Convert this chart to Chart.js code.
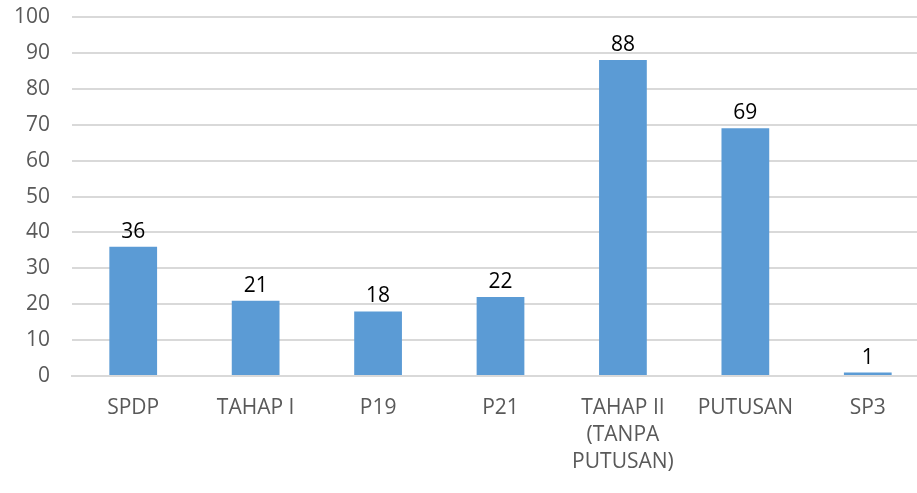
<!DOCTYPE html>
<html>
<head>
<meta charset="utf-8">
<script src="https://cdn.jsdelivr.net/npm/chart.js@4.4.1/dist/chart.umd.min.js"></script>
<style>
  html, body { margin: 0; padding: 0; background: #fff; overflow: hidden; }
  #wrap { width: 931px; height: 493px; }
</style>
</head>
<body>
<div id="wrap"><canvas id="chart"></canvas></div>
<script>
const categories = ['SPDP', 'TAHAP I', 'P19', 'P21', ['TAHAP II', '(TANPA', 'PUTUSAN)'], 'PUTUSAN', 'SP3'];
const values = [36, 21, 18, 22, 88, 69, 1];
const yTicks = { min: 0, max: 100, step: 10 };

const fontFamily = '"Open Sans", "Liberation Sans", sans-serif';

// draws the number above each bar
const valueLabels = {
    id: 'valueLabels',
    afterDatasetsDraw(chart) {
        const ctx = chart.ctx;
        ctx.save();
        ctx.font = '21px ' + fontFamily;
        ctx.fillStyle = '#000';
        ctx.textAlign = 'center';
        ctx.textBaseline = 'alphabetic';
        chart.getDatasetMeta(0).data.forEach((bar, i) => {
            ctx.fillText(values[i], bar.x, bar.y - 9);
        });
        ctx.restore();
    }
};

new Chart(document.getElementById('chart'), {
    type: 'bar',
    data: {
        labels: categories,
        datasets: [{
            data: values,
            backgroundColor: '#5B9BD5',
            barPercentage: 0.39,
            categoryPercentage: 1
        }]
    },
    options: {
        responsive: true,
        maintainAspectRatio: false,
        animation: false,
        layout: { padding: { left: 12, right: 2, top: 17, bottom: 7 } },
        plugins: {
            legend: { display: false },
            tooltip: { enabled: false }
        },
        scales: {
            x: {
                grid: { display: false },
                border: { display: true, color: '#d9d9d9', width: 2 },
                ticks: {
                    color: '#595959',
                    font: { family: fontFamily, size: 21, lineHeight: 1.3 },
                    padding: 10,
                    maxRotation: 0,
                    autoSkip: false
                }
            },
            y: {
                min: yTicks.min,
                max: yTicks.max,
                grid: { color: '#d9d9d9', lineWidth: 2, drawTicks: false },
                border: { display: false },
                afterFit(scale) {
                    scale.width = 60;
                    scale.paddingTop = 0;
                    scale.paddingBottom = 0;
                },
                ticks: {
                    stepSize: yTicks.step,
                    color: '#595959',
                    font: { family: fontFamily, size: 21 },
                    padding: 22
                }
            }
        }
    },
    plugins: [valueLabels]
});
</script>
</body>
</html>
